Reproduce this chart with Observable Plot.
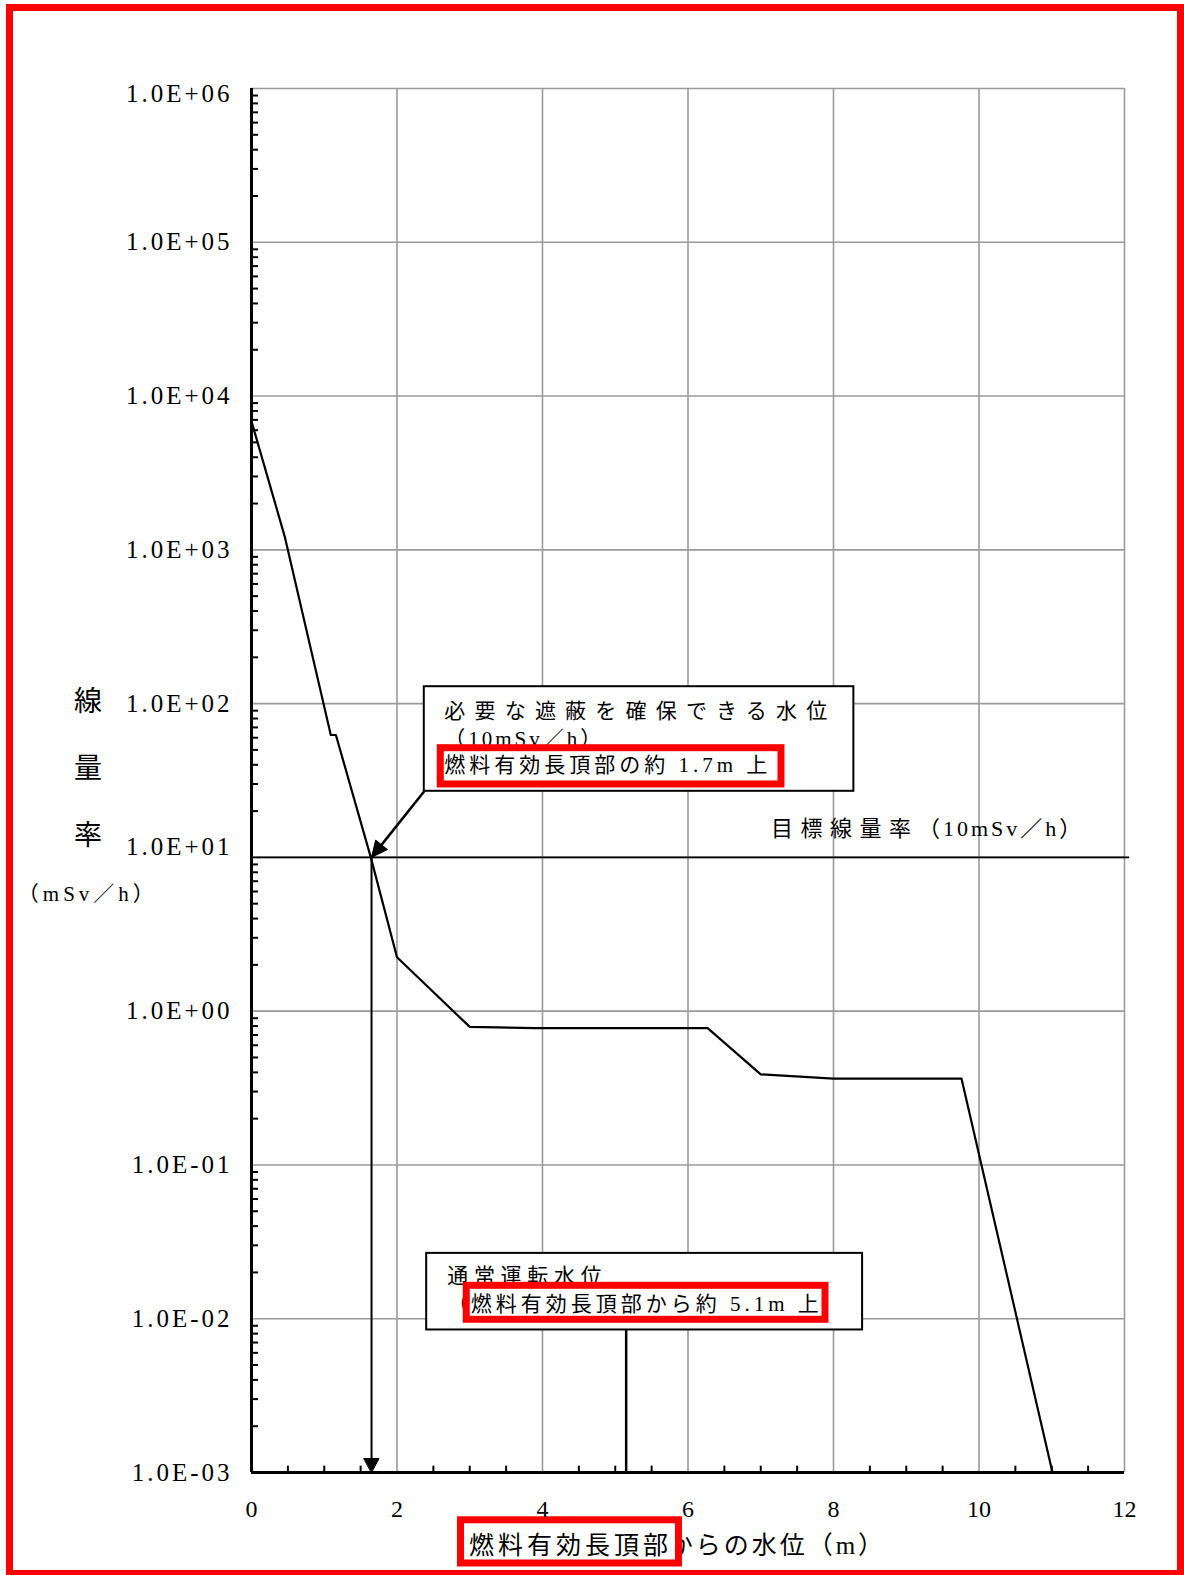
<!DOCTYPE html>
<html>
<head>
<meta charset="utf-8">
<script src="https://cdn.jsdelivr.net/npm/d3@7"></script>
<script src="https://cdn.jsdelivr.net/npm/@observablehq/plot@0.6"></script>
<style>
html, body { margin: 0; padding: 0; background: #fff; }
#wrap { position: relative; width: 1184px; height: 1575px; overflow: hidden; background: #fff; }
#chart { position: absolute; left: 0; top: 0; }
#frame { position: absolute; left: 6px; top: 4px; width: 1178px; height: 1573px; border: 7px solid #ff0000; box-sizing: border-box; pointer-events: none; }
</style>
</head>
<body>
<div id="wrap"><div id="chart"></div><div id="frame"></div></div>
<script>
// ---- data ----
const waterLevel = [0, 0.46, 1.09, 1.16, 1.64, 2.0, 3.0, 3.9, 6.27, 7.0, 8.0, 9.76, 11.01]; // 燃料有効長頂部からの水位 (m)
const doseRate   = [6840, 1205, 62.5, 62.5, 10, 2.24, 0.79, 0.775, 0.775, 0.388, 0.364, 0.364, 0.001]; // 線量率 (mSv/h)
const targetRate = [10];     // 目標線量率 (10mSv/h)
const shieldLevel = [1.65];  // 必要な遮蔽を確保できる水位
const normalLevel = [5.15];  // 通常運転水位
const xTicks = [0, 2, 4, 6, 8, 10, 12];
const xTickLabels = ["0", "2", "4", "6", "8", "10", "12"];
const xMinorTicks = [0.5, 1, 1.5, 2.5, 3, 3.5, 4.5, 5, 5.5, 6.5, 7, 7.5, 8.5, 9, 9.5, 10.5, 11, 11.5];
const yTicks = [1e-3, 1e-2, 1e-1, 1, 10, 100, 1e3, 1e4, 1e5, 1e6];
const yTickLabels = ["1.0E-03", "1.0E-02", "1.0E-01", "1.0E+00", "1.0E+01", "1.0E+02", "1.0E+03", "1.0E+04", "1.0E+05", "1.0E+06"];
const yMinorTicks = yTicks.slice(0, -1).flatMap(d => [2, 3, 4, 5, 6, 7, 8, 9].map(k => k * d));
const yAxisLabel = ["線", "量", "率"];
const yAxisUnit = "（mSv／h）";
const xAxisLabel = ["燃料有効長頂部", "からの水位（m）"];
const targetLabel = ["目標線量率", "（10mSv／h）"];
const shieldLabel = ["必要な遮蔽を確保できる水位", "（10mSv／h）", "燃料有効長頂部の約 1.7m 上"];
const normalLabel = ["通常運転水位", "（", "燃料有効長頂部から約 5.1m 上"];

const curve = waterLevel.map((x, i) => ({x, y: doseRate[i]}));

// ---- layout ----
const W = 1184, H = 1575;
const M = {left: 251, right: 60, top: 88, bottom: 103};
const xDomain = [0, 12], yDomain = [1e-3, 1e6];
const serif = "'Liberation Serif', 'Noto Sans CJK JP', serif";
const cjk = "'Liberation Serif', 'Noto Sans CJK JP', sans-serif";

let xs, ys;
if (typeof Plot.scale === "function") {
  xs = Plot.scale({x: {domain: xDomain, range: [M.left, W - M.right]}});
  ys = Plot.scale({y: {type: "log", domain: yDomain, range: [H - M.bottom, M.top]}});
} else {
  const dx = d3.scaleLinear(xDomain, [M.left, W - M.right]);
  const dy = d3.scaleLog(yDomain, [H - M.bottom, M.top]);
  xs = {apply: dx}; ys = {apply: dy};
}
// leader arrow from the box corner to the crossing point
const corner = {x: 2.375, y: 26.9};
const tip = {x: shieldLevel[0], y: targetRate[0]};
const leaderAngle = Math.atan2(xs.apply(tip.x) - xs.apply(corner.x), -(ys.apply(tip.y) - ys.apply(corner.y))) * 180 / Math.PI;

const headShape = {
  draw(ctx, l, r) { ctx.moveTo(0, -l); ctx.lineTo(-r, 0); ctx.lineTo(r, 0); ctx.closePath(); }
};

const grid = {stroke: "#9a9a9a", strokeWidth: 1.6, strokeOpacity: 1};
const txt = (s, x, y, size, font, anchor = "start") =>
  Plot.text([s], {x: () => x, y: () => y, text: d => d, textAnchor: anchor, fontSize: size, fontFamily: font, fill: "black"});
const yAxisOpts = {anchor: "left", tickSize: 0, tickPadding: 19, fontSize: 25, fontFamily: serif, label: null,
  tickFormat: d => yTickLabels[yTicks.indexOf(d)]};

const chart = Plot.plot({
  width: W, height: H,
  marginLeft: M.left, marginRight: M.right, marginTop: M.top, marginBottom: M.bottom,
  style: {background: "white", overflow: "visible"},
  x: {domain: xDomain},
  y: {type: "log", domain: yDomain},
  marks: [
    Plot.gridX(xTicks, grid),
    Plot.gridY(yTicks, grid),
    Plot.ruleY(yMinorTicks, {y: d => d, x1: 0, x2: 0.096, stroke: "black", strokeWidth: 2}),
    Plot.ruleX(xMinorTicks, {x: d => d, y1: 1e-3, y2: 1.1e-3, stroke: "black", strokeWidth: 2}),
    Plot.ruleX([0], {stroke: "black", strokeWidth: 3}),
    Plot.ruleY([1e-3], {stroke: "black", strokeWidth: 3}),
    Plot.ruleY(targetRate, {y: d => d, x1: 0, x2: 12.07, stroke: "black", strokeWidth: 1.6}),
    Plot.line(curve, {x: "x", y: "y", stroke: "black", strokeWidth: 2.2}),
    // vertical arrow at the shielding level
    Plot.ruleX(shieldLevel, {x: d => d, y1: targetRate[0], y2: 1.2e-3, stroke: "black", strokeWidth: 2}),
    Plot.vector(shieldLevel, {x: d => d, y: () => 1e-3, length: 14, rotate: 180, anchor: "end", shape: headShape, r: 7.5, fill: "black", stroke: "black", strokeWidth: 1}),
    // normal operating level line
    Plot.ruleX(normalLevel, {x: d => d, y1: 0.00845, y2: 1e-3, stroke: "black", strokeWidth: 2.5}),
    // leader arrow
    Plot.link([0], {x1: () => corner.x, y1: () => corner.y, x2: () => tip.x, y2: () => tip.y, stroke: "black", strokeWidth: 2.5}),
    Plot.vector([0], {x: () => tip.x, y: () => tip.y, length: 16, rotate: leaderAngle, anchor: "end", shape: headShape, r: 7.5, fill: "black", stroke: "black", strokeWidth: 1}),
    // annotation box 1
    Plot.rect([0], {x1: () => 2.375, x2: () => 8.28, y1: () => 128.8, y2: () => 26.9, fill: "white", stroke: "black", strokeWidth: 2}),
    txt(shieldLabel[0], 2.65, 88.9, 21, cjk),
    txt(shieldLabel[1], 2.65, 58.2, 21, cjk),
    Plot.rect([0], {x1: () => 2.602, x2: () => 7.285, y1: () => 51.3, y2: () => 29.8, fill: "white", stroke: "#ff0000", strokeWidth: 7}),
    txt(shieldLabel[2], 2.65, 39.5, 21, cjk),
    // annotation box 2
    Plot.rect([0], {x1: () => 2.408, x2: () => 8.40, y1: () => 0.0266, y2: () => 0.00845, fill: "white", stroke: "black", strokeWidth: 2}),
    txt(normalLabel[0], 2.69, 0.0188, 21, cjk),
    txt(normalLabel[1], 2.69, 0.01236, 21, cjk),
    Plot.rect([0], {x1: () => 2.959, x2: () => 7.890, y1: () => 0.01637, y2: () => 0.00984, fill: "white", stroke: "#ff0000", strokeWidth: 7}),
    txt(normalLabel[2], 3.013, 0.01236, 21, cjk),
    // target line label
    txt(targetLabel[0], 7.14, 15.2, 22, cjk),
    txt(targetLabel[1], 9.16, 15.2, 22, cjk),
    // y axis title
    txt(yAxisLabel[0], -2.247, 101.8, 28, cjk, "middle"),
    txt(yAxisLabel[1], -2.247, 37.7, 28, cjk, "middle"),
    txt(yAxisLabel[2], -2.247, 13.7, 28, cjk, "middle"),
    txt(yAxisUnit, -2.25, 5.8, 21, cjk, "middle"),
    // x axis title with highlight
    txt(xAxisLabel[1], 5.72, 3.35e-4, 25, cjk),
    Plot.rect([0], {x1: () => 2.880, x2: () => 5.876, y1: () => 4.89e-4, y2: () => 2.56e-4, fill: "white", stroke: "#ff0000", strokeWidth: 7}),
    txt(xAxisLabel[0], 2.99, 3.35e-4, 25, cjk),
    // axes
    Plot.axisY(yTicks.filter(d => d !== 10 && d !== 1e6), yAxisOpts),
    Plot.axisY([10], {...yAxisOpts, dy: -10}),
    Plot.axisY([1e6], {...yAxisOpts, dy: 5}),
    Plot.axisX(xTicks, {anchor: "bottom", tickSize: 0, tickPadding: 27, fontSize: 24, fontFamily: serif, label: null,
      tickFormat: d => xTickLabels[xTicks.indexOf(d)]})
  ]
});

// letter spacing per text string
const spacing = new Map([
  [shieldLabel[0], 9.2], [shieldLabel[1], 1], [shieldLabel[2], 4],
  [normalLabel[0], 5.7], [normalLabel[2], 4],
  [targetLabel[0], 7.5], [targetLabel[1], 3],
  [xAxisLabel[0], 4], [xAxisLabel[1], 3], [yAxisUnit, 4]
]);
yTickLabels.forEach(s => spacing.set(s, 3));
d3.select(chart).selectAll("text").each(function () {
  const s = this.textContent;
  if (spacing.has(s)) this.setAttribute("letter-spacing", spacing.get(s));
});

document.getElementById("chart").appendChild(chart);
</script>
</body>
</html>
